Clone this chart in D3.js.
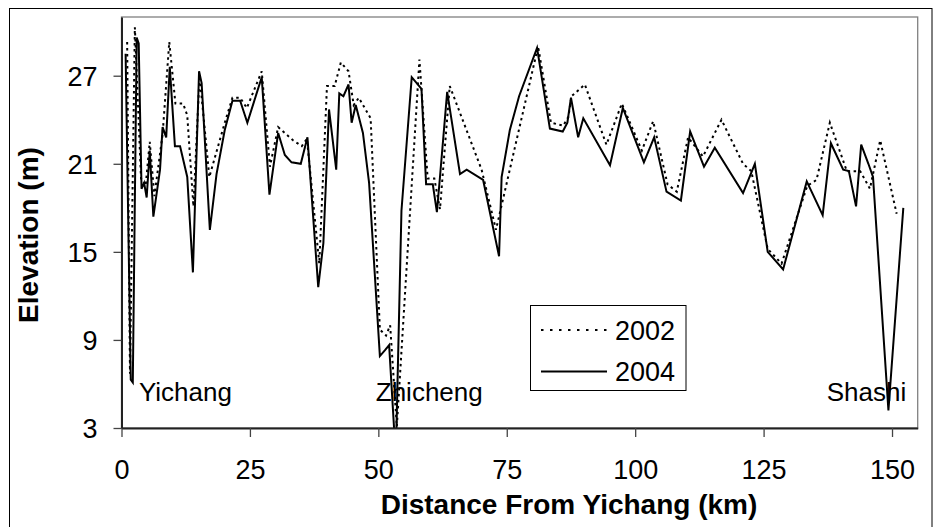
<!DOCTYPE html>
<html><head><meta charset="utf-8">
<script src="https://cdn.jsdelivr.net/npm/d3@7"></script>
<style>
body{margin:0;background:#fff}
svg{display:block}
text{font-family:"Liberation Sans",Arial,sans-serif;fill:#000}
</style>
</head><body>
<svg id="chart" width="940" height="527"></svg>
<script>
// ---- data ----
const dist2002 = [1.1,1.65,2.6,3.8,4.7,5.5,6.4,8.0,9.3,10.5,12.0,12.8,14.0,15.2,17.1,20.1,21.6,23.1,24.4,27.3,28.9,30.5,33.4,35.1,36.1,38.5,40.0,41.5,42.7,44.2,45.2,46.2,48.5,50.3,51.5,52.3,53.6,58.0,59.6,60.9,62.0,63.9,70.1,72.9,81.1,83.6,86.0,87.0,87.6,90.2,94.4,97.4,101.3,103.5,106.3,108.1,110.3,113.2,116.8,121.0,122.6,125.8,128.5,133.5,135.3,137.9,141.2,143.8,145.7,147.7,150.9];
const elev2002 = [29.3,6.7,30.3,20.0,19.5,22.5,18.8,23.0,29.3,25.1,25.1,24.3,18.1,27.0,20.1,23.8,25.5,25.5,24.8,27.3,20.8,23.5,22.6,22.2,22.7,14.2,26.3,26.3,27.9,27.3,25.0,25.5,24.1,9.7,9.3,10.0,3.1,28.1,20.0,20.0,17.9,26.3,20.6,16.5,29.0,23.8,23.6,24.2,25.6,26.4,22.3,25.1,21.9,23.9,19.6,19.1,22.8,21.5,24.0,21.0,20.5,15.2,14.2,19.5,19.9,23.8,20.5,20.5,19.3,22.6,17.6];
const dist2004 = [0.8,1.8,2.2,2.96,3.35,3.9,4.4,4.9,5.5,6.2,7.5,8.0,8.7,9.4,10.4,11.4,12.8,13.9,15.1,15.6,17.2,18.5,20.1,21.6,23.1,24.5,27.3,28.8,30.5,31.8,33.1,34.9,36.2,38.3,39.3,40.4,41.8,42.4,43.2,44.2,44.8,45.6,47.0,48.2,50.3,51.3,52.1,53.4,54.5,56.5,58.4,59.3,60.6,61.4,62.0,63.4,65.9,67.2,70.4,73.5,74.0,75.6,77.4,80.9,83.4,85.9,86.8,87.5,88.9,89.9,95.1,97.6,101.7,103.7,106.1,108.9,110.7,113.4,115.5,121.0,123.3,125.8,128.8,133.4,136.5,138.1,140.5,141.6,143.0,144.0,145.4,146.3,149.3,152.2];
const elev2004 = [28.5,6.3,6.1,29.6,29.2,19.3,19.7,18.7,21.9,17.4,20.6,23.5,22.8,27.6,22.2,22.2,20.1,13.6,27.3,26.5,16.5,20.3,23.3,25.3,25.3,23.8,26.9,18.9,23.1,21.6,21.1,21.0,22.8,12.6,15.6,24.7,20.6,25.8,25.6,26.4,23.8,25.0,23.1,19.7,7.9,8.3,8.65,1.0,17.8,26.9,26.1,19.6,19.6,17.7,20.1,25.9,20.3,20.6,19.9,14.7,20.1,23.3,25.6,28.9,23.4,23.2,23.8,25.5,22.8,24.1,20.9,24.8,21.1,22.8,19.1,18.5,23.2,20.8,22.1,19.0,21.0,15.0,13.8,19.8,17.5,22.4,20.6,20.5,18.1,22.3,21.0,20.1,4.2,18.0];
const xTicks = [0,25,50,75,100,125,150];
const yTicks = [3,9,15,21,27];
const seriesNames = ["2002","2004"];
const siteNames = ["Yichang","Zhicheng","Shashi"];
const siteDist = [3.4,49.5,137.3];
const xTitle = "Distance From Yichang (km)";
const yTitle = "Elevation (m)";

// ---- layout ----
const svg = d3.select("#chart");
const L = 121.5, R = 917.7, T = 17, B = 428;
const x = d3.scaleLinear().domain([0,155]).range([L,R]);
const y = d3.scaleLinear().domain([3,31]).range([B,T]);

// outer chart border
svg.append("rect").attr("x",9.5).attr("y",8.5).attr("width",922.5).attr("height",540)
  .attr("fill","#fff").attr("stroke","#000").attr("stroke-width",1);

// plot area border
svg.append("rect").attr("x",L).attr("y",T).attr("width",R-L).attr("height",B-T)
  .attr("fill","none").attr("stroke","#808080").attr("stroke-width",1.3);

svg.append("clipPath").attr("id","clip").append("rect")
  .attr("x",L).attr("y",T).attr("width",R-L).attr("height",B-T);

const s2002 = dist2002.map((d,i)=>[d,elev2002[i]]);
const s2004 = dist2004.map((d,i)=>[d,elev2004[i]]);
const line = d3.line().x(d=>x(d[0])).y(d=>y(d[1]));

const g = svg.append("g").attr("clip-path","url(#clip)");
g.append("path").datum(s2002).attr("d",line).attr("fill","none")
  .attr("stroke","#000").attr("stroke-width",2).attr("stroke-dasharray","2.5,3.5");
g.append("path").datum(s2004).attr("d",line).attr("fill","none")
  .attr("stroke","#000").attr("stroke-width",2).attr("stroke-linejoin","miter");

// axes
const xAxis = d3.axisBottom(x).tickValues(xTicks).tickSize(9).tickSizeOuter(0).tickPadding(10);
const yAxis = d3.axisLeft(y).tickValues(yTicks).tickSize(8).tickSizeOuter(0).tickPadding(16);
const gx = svg.append("g").attr("transform",`translate(0,${B})`).call(xAxis);
const gy = svg.append("g").attr("transform",`translate(${L},0)`).call(yAxis);
[gx,gy].forEach(a=>{
  a.select(".domain").attr("stroke","#222").attr("stroke-width",2);
  a.selectAll(".tick line").attr("stroke","#444").attr("stroke-width",1.3);
  a.selectAll(".tick text").attr("font-size",27).attr("font-family",'"Liberation Sans",Arial,sans-serif').attr("fill","#000");
});
gx.selectAll(".tick text").attr("dy",null).attr("y",51).attr("dominant-baseline",null);
gy.selectAll(".tick text").attr("dy","0.35em");

// axis titles
svg.append("text").attr("x",569).attr("y",514).attr("text-anchor","middle")
  .attr("font-size",28).attr("font-weight","bold").text(xTitle);
svg.append("text").attr("transform","translate(38,235) rotate(-90)").attr("text-anchor","middle")
  .attr("font-size",28).attr("font-weight","bold").text(yTitle);

// site labels
svg.selectAll(".site").data(siteNames).enter().append("text").attr("class","site")
  .attr("x",(d,i)=>x(siteDist[i])).attr("y",401).attr("font-size",26).text(d=>d);

// legend
const lg = svg.append("g");
lg.append("rect").attr("x",530.5).attr("y",305.5).attr("width",155.5).attr("height",85)
  .attr("fill","#fff").attr("stroke","#000").attr("stroke-width",1);
const legY = [330,371.5];
seriesNames.forEach((n,i)=>{
  lg.append("line").attr("x1",541).attr("x2",607).attr("y1",legY[i]).attr("y2",legY[i])
    .attr("stroke","#000").attr("stroke-width",2)
    .attr("stroke-dasharray", i===0 ? "2.5,6.5" : null);
  lg.append("text").attr("x",615).attr("y",legY[i]+9.5).attr("font-size",27).text(n);
});
</script>
</body></html>
